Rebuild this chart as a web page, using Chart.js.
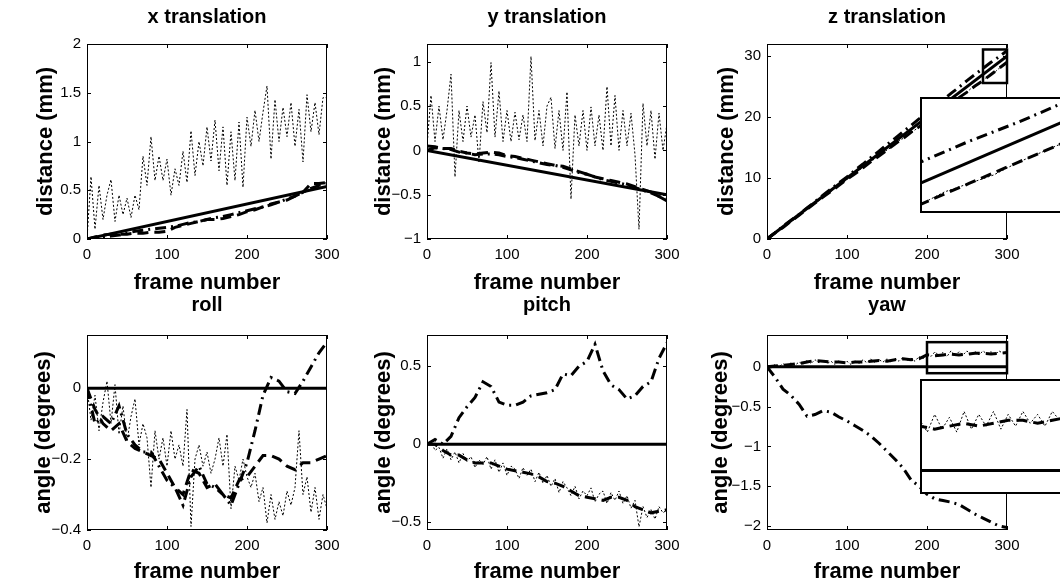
<!DOCTYPE html>
<html><head><meta charset="utf-8">
<script src="https://cdn.jsdelivr.net/npm/chart.js@4.4.1/dist/chart.umd.min.js"></script>
<style>
html,body{margin:0;padding:0;background:#fff;overflow:hidden;width:1060px;height:584px;}
#fig{position:relative;width:1060px;height:584px;overflow:hidden;background:#fff;}
</style></head><body><div id="fig"></div>
<script>
// ---------------- data ----------------
const FRAMES_END = [0, 300];
const FRAMES_10 = [0,10,20,30,40,50,60,70,80,90,100,110,120,130,140,150,160,170,180,190,200,210,220,230,240,250,260,270,280,290,300];
const FRAMES_5 = [0,5,10,15,20,25,30,35,40,45,50,55,60,65,70,75,80,85,90,95,100,105,110,115,120,125,130,135,140,145,150,155,160,165,170,175,180,185,190,195,200,205,210,215,220,225,230,235,240,245,250,255,260,265,270,275,280,285,290,295,300];

const X_TICKS = [0, 100, 200, 300];
const XT_TICKS = [0, 0.5, 1, 1.5, 2];
const YT_TICKS = [-1, -0.5, 0, 0.5, 1];
const ZT_TICKS = [0, 10, 20, 30];
const ROLL_TICKS = [-0.4, -0.2, 0];
const PITCH_TICKS = [-0.5, 0, 0.5];
const YAW_TICKS = [-2, -1.5, -1, -0.5, 0];

const TITLES = ['x translation', 'y translation', 'z translation', 'roll', 'pitch', 'yaw'];
const X_LABEL = 'frame number';
const Y_LABEL_TOP = 'distance (mm)';
const Y_LABEL_BOTTOM = 'angle (degrees)';

// x translation
const xt_truth = [0, 0.54];
const xt_A = [0,0.01,0.02,0.03,0.04,0.06,0.08,0.09,0.10,0.11,0.12,0.13,0.15,0.17,0.18,0.20,0.22,0.23,0.25,0.27,0.29,0.31,0.33,0.35,0.38,0.41,0.44,0.48,0.52,0.55,0.57];
const xt_B = [0,0.02,0.04,0.05,0.05,0.05,0.06,0.06,0.07,0.07,0.08,0.12,0.14,0.16,0.18,0.20,0.20,0.21,0.23,0.25,0.28,0.30,0.33,0.36,0.38,0.40,0.44,0.48,0.57,0.57,0.58];
const xt_C = [0.00,0.64,0.10,0.55,0.20,0.45,0.61,0.18,0.45,0.25,0.42,0.22,0.45,0.30,0.85,0.55,1.05,0.60,0.85,0.60,0.82,0.45,0.72,0.55,0.90,0.58,1.11,0.65,1.00,0.75,1.15,0.80,1.22,0.70,1.15,0.55,1.10,0.60,1.20,0.53,1.25,0.95,1.32,1.00,1.30,1.57,0.82,1.43,1.00,1.35,1.05,1.40,0.95,1.33,0.79,1.48,1.10,1.40,1.07,1.45,1.45];

// y translation
const yt_truth = [0, -0.5];
const yt_A = [0,0.03,0.02,0.01,-0.02,-0.03,-0.05,-0.04,-0.04,-0.05,-0.07,-0.08,-0.10,-0.12,-0.14,-0.16,-0.17,-0.19,-0.22,-0.25,-0.27,-0.30,-0.33,-0.35,-0.37,-0.39,-0.42,-0.45,-0.48,-0.52,-0.55];
const yt_B = [0.05,0.04,0.02,0.02,-0.01,-0.03,-0.04,-0.03,-0.02,-0.03,-0.06,-0.07,-0.09,-0.11,-0.13,-0.15,-0.17,-0.18,-0.21,-0.24,-0.27,-0.30,-0.32,-0.34,-0.36,-0.38,-0.41,-0.44,-0.47,-0.52,-0.57];
const yt_C = [0.05,0.62,0.10,0.50,0.12,0.45,0.86,-0.30,0.45,0.10,0.50,0.15,0.40,-0.14,0.55,0.20,0.99,0.15,0.67,0.10,0.45,0.10,0.43,0.12,0.40,0.10,1.06,0.11,0.45,0.05,0.50,0.60,0.02,0.45,0.00,0.66,-0.55,0.40,0.05,0.45,0.00,0.49,0.05,0.40,0.00,0.72,0.05,0.62,0.00,0.45,0.05,0.42,-0.05,-0.89,0.53,0.05,0.45,-0.10,0.42,0.00,0.30];

// z translation
const zt_truth = [0, 30];
const zt_A = [0,1.0,2.1,3.1,4.0,5.1,6.1,7.2,8.2,9.2,10.2,11.3,12.3,13.4,14.4,15.5,16.5,17.6,18.6,19.7,20.7,21.8,22.8,23.9,24.9,26.0,27.0,28.0,29.0,29.9,30.9];
const zt_B = [0,1.0,1.9,2.9,3.9,4.9,5.9,6.9,7.8,8.8,9.8,10.7,11.7,12.7,13.6,14.6,15.6,16.5,17.5,18.4,19.4,20.3,21.3,22.2,23.2,24.1,25.1,26.0,27.0,28.0,29.0];
const zt_C = [0,0.5,1.0,1.4,1.9,2.5,2.9,3.3,3.9,4.4,4.9,5.5,5.9,6.3,6.9,7.4,7.8,8.4,8.8,9.2,9.8,10.3,10.7,11.3,11.7,12.1,12.7,13.2,13.6,14.2,14.6,15.0,15.6,16.1,16.5,17.1,17.5,17.9,18.4,18.9,19.4,19.9,20.3,20.7,21.3,21.8,22.2,22.8,23.2,23.6,24.1,24.7,25.1,25.5,26.0,26.6,27.0,27.4,28.0,28.5,29.0];

// roll
const roll_truth = [0, 0];
const roll_A = [0,-0.10,-0.08,-0.10,-0.05,-0.13,-0.16,-0.18,-0.18,-0.22,-0.26,-0.28,-0.33,-0.25,-0.22,-0.27,-0.28,-0.30,-0.33,-0.27,-0.21,-0.12,-0.02,0.03,0.02,-0.01,-0.015,0.02,0.06,0.10,0.13];
const roll_B = [0,-0.06,-0.10,-0.12,-0.10,-0.15,-0.17,-0.18,-0.19,-0.20,-0.24,-0.28,-0.30,-0.23,-0.24,-0.28,-0.27,-0.30,-0.31,-0.26,-0.25,-0.22,-0.19,-0.19,-0.20,-0.22,-0.23,-0.21,-0.21,-0.20,-0.19];
const roll_C = [0,-0.09,-0.02,-0.12,-0.04,0.02,-0.10,0.01,-0.13,-0.05,-0.15,-0.08,-0.03,-0.16,-0.10,-0.14,-0.28,-0.12,-0.20,-0.14,-0.22,-0.12,-0.20,-0.16,-0.22,-0.06,-0.39,-0.20,-0.16,-0.22,-0.18,-0.24,-0.20,-0.14,-0.22,-0.13,-0.34,-0.22,-0.26,-0.20,-0.25,-0.28,-0.24,-0.32,-0.28,-0.38,-0.30,-0.37,-0.32,-0.36,-0.29,-0.33,-0.28,-0.12,-0.30,-0.25,-0.35,-0.28,-0.37,-0.30,-0.34];

// pitch
const pitch_truth = [0, 0];
const pitch_A = [0,0.03,0.00,0.05,0.17,0.24,0.30,0.40,0.37,0.27,0.25,0.25,0.27,0.31,0.32,0.33,0.35,0.45,0.44,0.50,0.53,0.64,0.47,0.38,0.35,0.29,0.31,0.37,0.40,0.55,0.65];
const pitch_B = [0,0.00,-0.04,-0.07,-0.07,-0.10,-0.12,-0.12,-0.12,-0.14,-0.16,-0.17,-0.18,-0.19,-0.21,-0.24,-0.25,-0.27,-0.30,-0.33,-0.34,-0.35,-0.36,-0.34,-0.34,-0.36,-0.40,-0.42,-0.44,-0.43,-0.42];
const pitch_C = [0,0.02,-0.04,-0.02,-0.09,-0.03,-0.10,-0.05,-0.12,-0.06,-0.11,-0.08,-0.15,-0.10,-0.13,-0.08,-0.16,-0.10,-0.18,-0.12,-0.20,-0.14,-0.16,-0.22,-0.15,-0.20,-0.16,-0.24,-0.18,-0.25,-0.20,-0.27,-0.22,-0.31,-0.24,-0.28,-0.33,-0.27,-0.35,-0.30,-0.33,-0.28,-0.37,-0.32,-0.30,-0.38,-0.31,-0.36,-0.30,-0.38,-0.33,-0.41,-0.36,-0.53,-0.40,-0.47,-0.42,-0.48,-0.40,-0.44,-0.42];

// yaw
const yaw_truth = [0, 0];
const yaw_A = [0,-0.13,-0.28,-0.36,-0.47,-0.62,-0.60,-0.55,-0.57,-0.63,-0.68,-0.74,-0.80,-0.87,-0.96,-1.06,-1.16,-1.27,-1.42,-1.50,-1.60,-1.66,-1.68,-1.70,-1.73,-1.79,-1.85,-1.90,-1.95,-2.00,-2.02];
const yaw_B = [0,0.01,0.02,0.03,0.04,0.06,0.08,0.07,0.06,0.06,0.05,0.06,0.06,0.07,0.08,0.07,0.09,0.10,0.09,0.10,0.15,0.14,0.15,0.16,0.15,0.16,0.17,0.17,0.16,0.17,0.18];
const yaw_C = [0,-0.02,0.03,0.00,0.04,0.01,0.05,0.02,0.06,0.03,0.08,0.04,0.09,0.05,0.08,0.04,0.07,0.03,0.08,0.04,0.07,0.03,0.08,0.04,0.09,0.05,0.10,0.05,0.09,0.06,0.10,0.06,0.11,0.07,0.12,0.08,0.11,0.07,0.13,0.10,0.17,0.13,0.19,0.14,0.18,0.13,0.20,0.14,0.19,0.15,0.20,0.14,0.19,0.15,0.20,0.16,0.19,0.15,0.20,0.17,0.19];

// zoom windows (data ranges) shown in the insets
const Z_ZOOM = {x0: 270, x1: 300, y0: 25.6, y1: 31.1};
const YAW_ZOOM = {x0: 200, x1: 300, y0: -0.08, y1: 0.31};

// ---------------- styling / layout ----------------
const FONT = '"Liberation Sans", Arial, Helvetica, sans-serif';
Chart.defaults.font.family = FONT;
const TITLE_SIZE = 20, LABEL_SIZE = 22, TICK_SIZE = 15;
const STYLE = {
  truth: {width: 3, dash: []},
  A: {width: 3, dash: [11, 5, 2, 5]},
  B: {width: 3, dash: [11, 6]},
  C: {width: 1, dash: [2, 2]}
};
const fig = document.getElementById('fig');

function ser(frames, values, style) { return {frames, values, style}; }
function datasets(list) {
  return list.map(s => ({
    data: s.frames.map((f, i) => ({x: f, y: s.values[i]})),
    borderColor: '#000', borderWidth: STYLE[s.style].width, borderDash: STYLE[s.style].dash,
    pointRadius: 0, tension: 0, fill: false, borderCapStyle: 'butt', borderJoinStyle: 'miter'
  }));
}
const fmt = v => String(v).replace('-', '\u2212');

const framePlugin = {
  id: 'matlabFrame',
  beforeDraw(chart, args, o) {
    if (!o.bg) return;
    const {ctx, chartArea: a} = chart;
    ctx.save(); ctx.fillStyle = '#fff';
    ctx.fillRect(a.left, a.top, a.right - a.left, a.bottom - a.top); ctx.restore();
  },
  afterDatasetsDraw(chart, args, o) {
    const {ctx, chartArea: a, scales} = chart;
    ctx.save();
    ctx.strokeStyle = '#000';
    if (o.xTicks) {
      ctx.lineWidth = 1; const L = 4;
      ctx.beginPath();
      o.xTicks.forEach(v => {
        const x = Math.round(scales.x.getPixelForValue(v)) + 0.5;
        ctx.moveTo(x, a.bottom); ctx.lineTo(x, a.bottom - L);
        ctx.moveTo(x, a.top); ctx.lineTo(x, a.top + L);
      });
      o.yTicks.forEach(v => {
        const y = Math.round(scales.y.getPixelForValue(v)) + 0.5;
        ctx.moveTo(a.left, y); ctx.lineTo(a.left + L, y);
        ctx.moveTo(a.right, y); ctx.lineTo(a.right - L, y);
      });
      ctx.stroke();
    }
    if (o.box) {
      const b = o.box;
      const x0 = scales.x.getPixelForValue(b.x0), x1 = scales.x.getPixelForValue(b.x1);
      const y0 = scales.y.getPixelForValue(b.y0), y1 = scales.y.getPixelForValue(b.y1);
      ctx.lineWidth = 2.5;
      ctx.strokeRect(x0, y1, x1 - x0, y0 - y1);
    }
    const w = o.frameWidth || 1;
    ctx.lineWidth = w;
    ctx.strokeRect(a.left + w / 2, a.top + w / 2, a.right - a.left - w, a.bottom - a.top - w);
    ctx.restore();
  }
};

function mainPlot(p) {
  const c = document.createElement('canvas');
  c.width = 1060; c.height = 584;
  c.style.cssText = 'position:absolute;left:0;top:0;width:1060px;height:584px;z-index:1';
  fig.appendChild(c);
  const tlh = TITLE_SIZE * 1.2, llh = LABEL_SIZE * 1.2;
  const yW = p.l - (p.ylabX - llh / 2);
  const xH = (p.xlabY + llh / 2) - p.b;
  const padTop = p.titleY - tlh / 2;
  const titlePb = p.t - padTop - tlh;
  new Chart(c, {
    type: 'line',
    data: {datasets: datasets(p.series)},
    plugins: [framePlugin],
    options: {
      responsive: false, animation: false, events: [], devicePixelRatio: 1,
      layout: {autoPadding: false, padding: {left: p.ylabX - llh / 2, top: padTop, right: 1060 - p.r, bottom: 584 - p.b - xH}},
      plugins: {
        legend: {display: false}, tooltip: {enabled: false},
        title: {display: true, fullSize: false, text: p.title, color: '#000',
          font: {family: FONT, size: TITLE_SIZE, weight: 'bold'}, padding: {top: 0, bottom: titlePb}},
        matlabFrame: {xTicks: X_TICKS, yTicks: p.yTicks, box: p.box}
      },
      scales: {
        x: {
          type: 'linear', min: 0, max: 300,
          afterBuildTicks: s => { s.ticks = X_TICKS.map(v => ({value: v})); },
          afterFit: s => { s.height = xH; s.paddingLeft = 0; s.paddingRight = 0; },
          grid: {display: false, drawTicks: false}, border: {display: false},
          ticks: {color: '#000', font: {family: FONT, size: TICK_SIZE}, padding: 7, maxRotation: 0, autoSkip: false, callback: fmt},
          title: {display: true, text: X_LABEL, color: '#000', padding: 0, font: {family: FONT, size: LABEL_SIZE, weight: 'bold'}}
        },
        y: {
          type: 'linear', min: p.yMin, max: p.yMax,
          afterBuildTicks: s => { s.ticks = p.yTicks.map(v => ({value: v})); },
          afterFit: s => { s.width = yW; s.paddingTop = 0; s.paddingBottom = 0; },
          grid: {display: false, drawTicks: false}, border: {display: false},
          ticks: {color: '#000', font: {family: FONT, size: TICK_SIZE}, padding: 6, autoSkip: false, callback: fmt},
          title: {display: true, text: p.ylabel, color: '#000', padding: 0, font: {family: FONT, size: LABEL_SIZE, weight: 'bold'}}
        }
      }
    }
  });
}

function insetPlot(p) {
  const c = document.createElement('canvas');
  c.width = p.w; c.height = p.h;
  c.style.cssText = `position:absolute;left:${p.left}px;top:${p.top}px;width:${p.w}px;height:${p.h}px;z-index:5;background:#fff`;
  fig.appendChild(c);
  new Chart(c, {
    type: 'line',
    data: {datasets: datasets(p.series)},
    plugins: [framePlugin],
    options: {
      responsive: false, animation: false, events: [], devicePixelRatio: 1,
      layout: {autoPadding: false, padding: 0},
      plugins: {legend: {display: false}, tooltip: {enabled: false}, title: {display: false},
        matlabFrame: {bg: true, frameWidth: 2}},
      scales: {
        x: {type: 'linear', display: false, min: p.zoom.x0, max: p.zoom.x1},
        y: {type: 'linear', display: false, min: p.zoom.y0, max: p.zoom.y1}
      }
    }
  });
}

const TOP = {t: 44, b: 239, titleY: 17, xlabY: 283};
const BOT = {t: 335, b: 530, titleY: 305, xlabY: 572};
const COLS_TOP = [{l: 87, r: 327, ylabX: 46}, {l: 427, r: 667, ylabX: 384}, {l: 767, r: 1007, ylabX: 727}];
const COLS_BOT = [{l: 87, r: 327, ylabX: 44}, {l: 427, r: 667, ylabX: 384}, {l: 767, r: 1007, ylabX: 721}];

const zSeries = [ser(FRAMES_END, zt_truth, 'truth'), ser(FRAMES_10, zt_A, 'A'), ser(FRAMES_10, zt_B, 'B'), ser(FRAMES_5, zt_C, 'C')];
const yawSeries = [ser(FRAMES_END, yaw_truth, 'truth'), ser(FRAMES_10, yaw_A, 'A'), ser(FRAMES_10, yaw_B, 'B'), ser(FRAMES_5, yaw_C, 'C')];

mainPlot({...TOP, ...COLS_TOP[0], title: TITLES[0], ylabel: Y_LABEL_TOP, yMin: 0, yMax: 2, yTicks: XT_TICKS,
  series: [ser(FRAMES_END, xt_truth, 'truth'), ser(FRAMES_10, xt_A, 'A'), ser(FRAMES_10, xt_B, 'B'), ser(FRAMES_5, xt_C, 'C')]});
mainPlot({...TOP, ...COLS_TOP[1], title: TITLES[1], ylabel: Y_LABEL_TOP, yMin: -1, yMax: 1.2, yTicks: YT_TICKS,
  series: [ser(FRAMES_END, yt_truth, 'truth'), ser(FRAMES_10, yt_A, 'A'), ser(FRAMES_10, yt_B, 'B'), ser(FRAMES_5, yt_C, 'C')]});
mainPlot({...TOP, ...COLS_TOP[2], title: TITLES[2], ylabel: Y_LABEL_TOP, yMin: 0, yMax: 32, yTicks: ZT_TICKS,
  series: zSeries, box: Z_ZOOM});
mainPlot({...BOT, ...COLS_BOT[0], title: TITLES[3], ylabel: Y_LABEL_BOTTOM, yMin: -0.4, yMax: 0.15, yTicks: ROLL_TICKS,
  series: [ser(FRAMES_END, roll_truth, 'truth'), ser(FRAMES_10, roll_A, 'A'), ser(FRAMES_10, roll_B, 'B'), ser(FRAMES_5, roll_C, 'C')]});
mainPlot({...BOT, ...COLS_BOT[1], title: TITLES[4], ylabel: Y_LABEL_BOTTOM, yMin: -0.55, yMax: 0.7, yTicks: PITCH_TICKS,
  series: [ser(FRAMES_END, pitch_truth, 'truth'), ser(FRAMES_10, pitch_A, 'A'), ser(FRAMES_10, pitch_B, 'B'), ser(FRAMES_5, pitch_C, 'C')]});
mainPlot({...BOT, ...COLS_BOT[2], title: TITLES[5], ylabel: Y_LABEL_BOTTOM, yMin: -2.05, yMax: 0.4, yTicks: YAW_TICKS,
  series: yawSeries, box: YAW_ZOOM});

insetPlot({left: 920, top: 97, w: 147, h: 116, zoom: Z_ZOOM, series: zSeries});
insetPlot({left: 920, top: 379, w: 147, h: 115, zoom: YAW_ZOOM, series: yawSeries});
</script>
</body></html>
